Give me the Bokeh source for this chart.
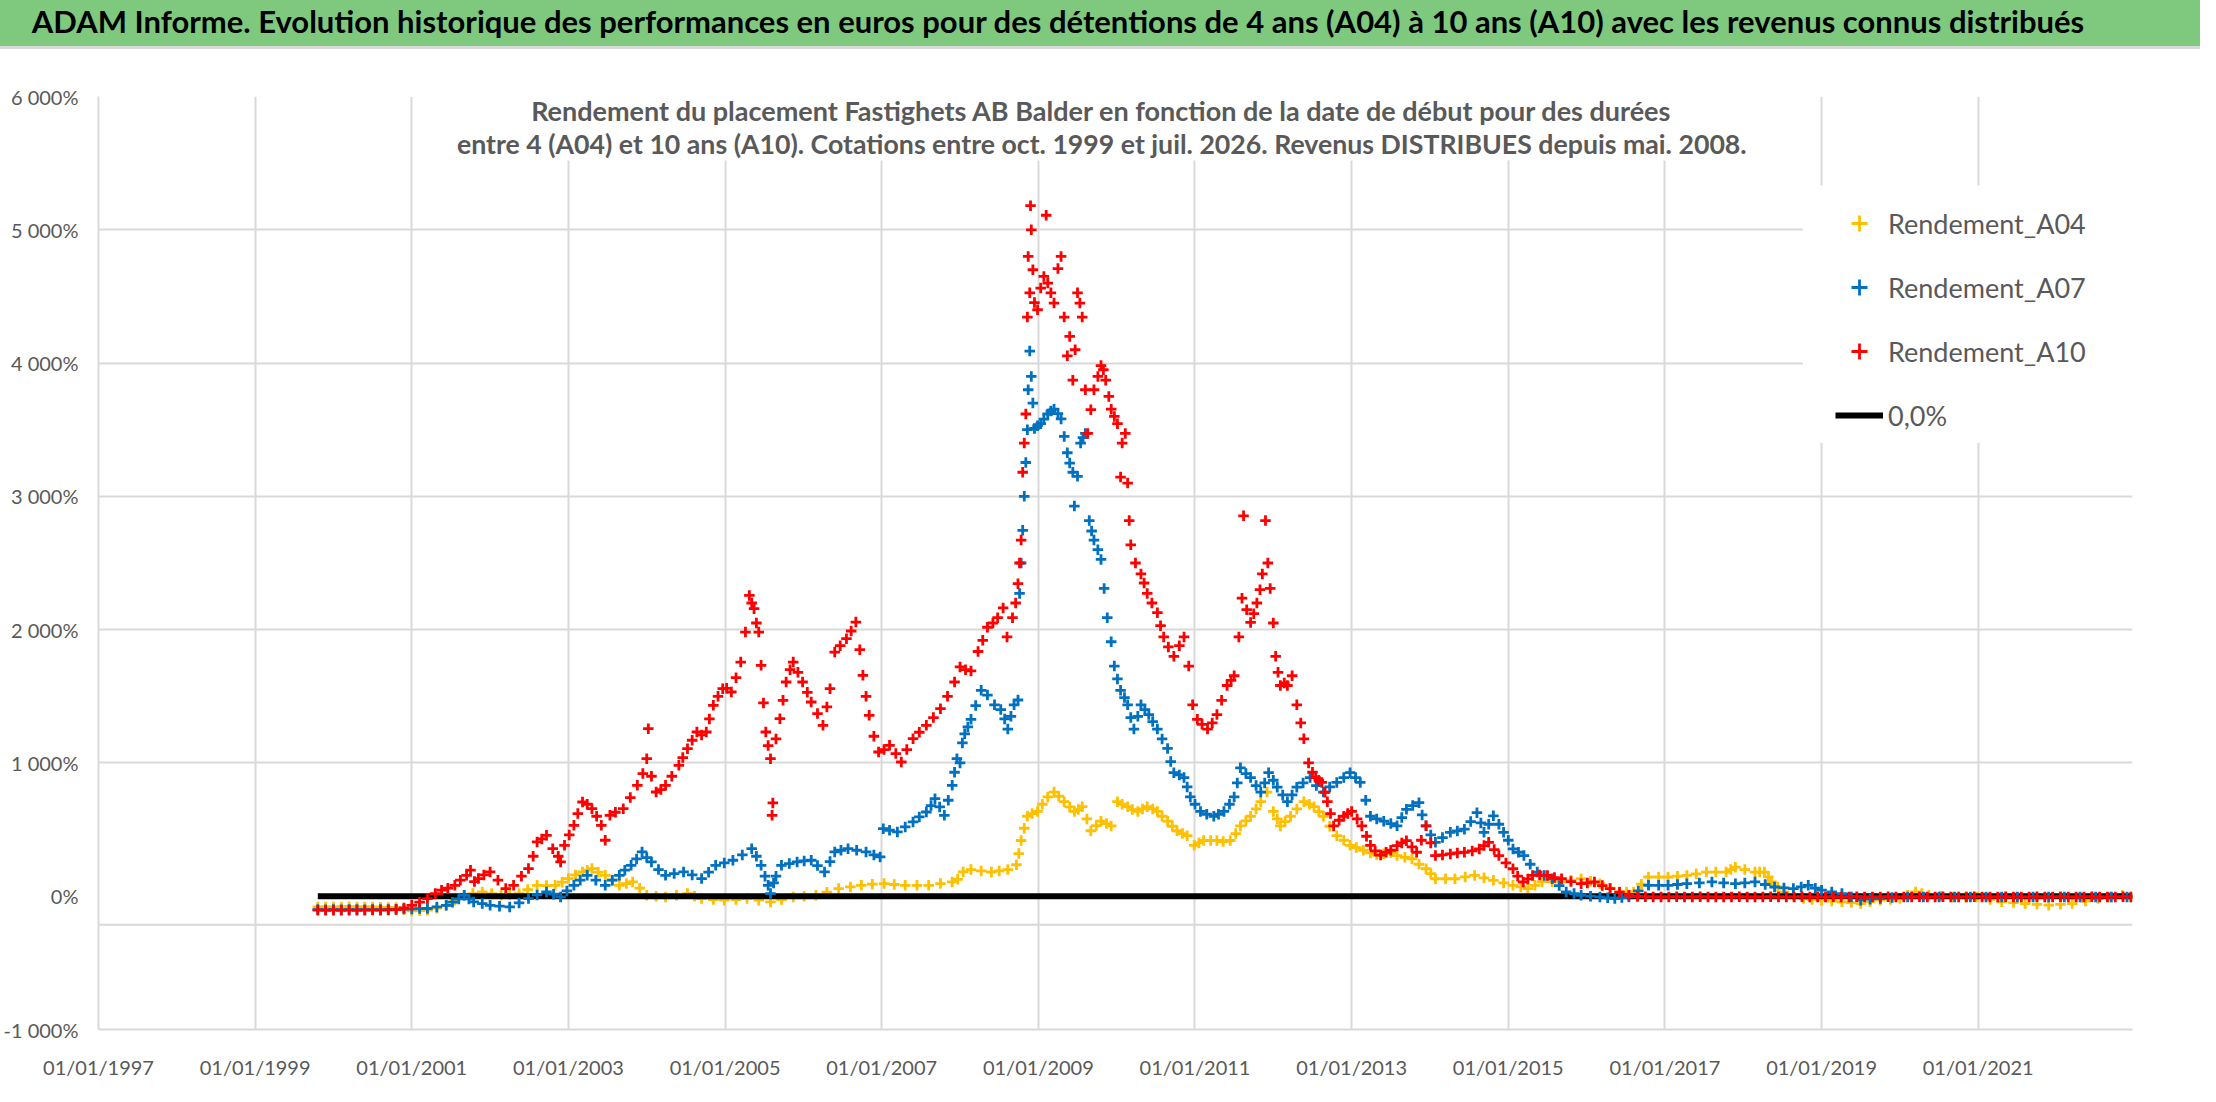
from bokeh.plotting import figure
from bokeh.models import Range1d, FixedTicker, Legend, LegendItem, Label, BoxAnnotation, Span, Div
from bokeh.layouts import column
from bokeh.embed import file_html
from bokeh.resources import INLINE

# ---------------- texts ----------------
TITLE = ("ADAM Informe. Evolution historique des performances en euros pour des détentions "
         "de 4 ans (A04) à 10 ans (A10) avec les revenus connus distribués")
SUBTITLE_1 = "Rendement du placement Fastighets AB Balder en fonction de la date de début pour des durées"
SUBTITLE_2 = ("entre 4 (A04) et 10 ans (A10). Cotations entre oct. 1999 et juil. 2026. "
              "Revenus DISTRIBUES depuis mai. 2008.")
SERIES_NAMES = ["Rendement_A04", "Rendement_A07", "Rendement_A10", "0,0%"]

# ---------------- ticks ----------------
Y_TICKS = [-1000, 0, 1000, 2000, 3000, 4000, 5000, 6000]
Y_TICK_LABELS = ["-1 000%", "0%", "1 000%", "2 000%", "3 000%", "4 000%", "5 000%", "6 000%"]
X_TICKS = [1997, 1999, 2001, 2003, 2005, 2007, 2009, 2011, 2013, 2015, 2017, 2019, 2021]
X_TICK_LABELS = ["01/01/1997", "01/01/1999", "01/01/2001", "01/01/2003", "01/01/2005",
                 "01/01/2007", "01/01/2009", "01/01/2011", "01/01/2013", "01/01/2015",
                 "01/01/2017", "01/01/2019", "01/01/2021"]

# ---------------- data (start date as decimal year, return in %) ----------------
a04_dates = [
    1999.80, 1999.90, 2000.00, 2000.10, 2000.20, 2000.30, 2000.40, 2000.50, 2000.60, 2000.70,
    2000.80, 2000.90, 2001.00, 2001.10, 2001.20, 2001.32, 2001.44, 2001.55, 2001.67, 2001.78,
    2001.90, 2002.02, 2002.14, 2002.25, 2002.37, 2002.48, 2002.60, 2002.72, 2002.83, 2002.92,
    2003.00, 2003.09, 2003.18, 2003.24, 2003.30, 2003.38, 2003.47, 2003.56, 2003.65, 2003.74,
    2003.82, 2003.91, 2004.00, 2004.12, 2004.24, 2004.38, 2004.52, 2004.61, 2004.70, 2004.85,
    2004.99, 2005.14, 2005.28, 2005.43, 2005.58, 2005.72, 2005.87, 2006.01, 2006.16, 2006.30,
    2006.45, 2006.60, 2006.74, 2006.88, 2007.03, 2007.16, 2007.30, 2007.45, 2007.60, 2007.75,
    2007.90, 2007.97, 2008.04, 2008.14, 2008.27, 2008.40, 2008.50, 2008.61, 2008.72, 2008.75,
    2008.78, 2008.82, 2008.86, 2008.92, 2008.99, 2009.05, 2009.12, 2009.20, 2009.26, 2009.33,
    2009.40, 2009.46, 2009.51, 2009.56, 2009.62, 2009.67, 2009.74, 2009.80, 2009.87, 2009.93,
    2010.01, 2010.07, 2010.14, 2010.20, 2010.27, 2010.33, 2010.39, 2010.46, 2010.52, 2010.58,
    2010.65, 2010.71, 2010.77, 2010.84, 2010.90, 2010.99, 2011.05, 2011.11, 2011.20, 2011.28,
    2011.36, 2011.45, 2011.52, 2011.58, 2011.65, 2011.71, 2011.78, 2011.84, 2011.92, 2012.00,
    2012.05, 2012.09, 2012.15, 2012.22, 2012.30, 2012.39, 2012.46, 2012.52, 2012.58, 2012.64,
    2012.72, 2012.81, 2012.90, 2012.98, 2013.06, 2013.15, 2013.24, 2013.32, 2013.41, 2013.50,
    2013.58, 2013.68, 2013.77, 2013.86, 2013.95, 2014.01, 2014.07, 2014.20, 2014.32, 2014.45,
    2014.57, 2014.69, 2014.81, 2014.94, 2015.06, 2015.16, 2015.25, 2015.34, 2015.43, 2015.56,
    2015.68, 2015.80, 2015.93, 2016.05, 2016.17, 2016.30, 2016.42, 2016.51, 2016.60, 2016.70,
    2016.79, 2016.92, 2017.04, 2017.16, 2017.28, 2017.40, 2017.53, 2017.65, 2017.78, 2017.84,
    2017.90, 2018.02, 2018.15, 2018.21, 2018.27, 2018.32, 2018.36, 2018.44, 2018.52, 2018.64,
    2018.77, 2018.88, 2019.00, 2019.13, 2019.26, 2019.38, 2019.50, 2019.62, 2019.75, 2019.88,
    2020.00, 2020.10, 2020.20, 2020.28, 2020.37, 2020.52, 2020.68, 2020.84, 2020.99, 2021.15,
    2021.30, 2021.45, 2021.60, 2021.75, 2021.90, 2022.05, 2022.20, 2022.37, 2022.53, 2022.68,
    2022.84, 2022.95,
]
a04_values = [
    -80, -80, -81, -80, -79, -80, -80, -81, -82, -84,
    -85, -100, -110, -108, -105, -90, -68, -30, 7, 20,
    32, 20, 7, 12, 20, 50, 82, 80, 82, 105,
    132, 160, 182, 195, 207, 180, 157, 120, 82, 95,
    107, 60, 7, 0, -5, 8, 20, 0, -18, -25,
    -30, -25, -18, -30, -43, -25, -5, 0, 7, 30,
    57, 70, 82, 90, 95, 88, 82, 82, 82, 95,
    107, 127, 182, 200, 190, 182, 190, 200, 236, 320,
    418, 510, 600, 620, 636, 690, 745, 781, 750, 709,
    670, 636, 650, 672, 580, 491, 530, 563, 545, 527,
    709, 690, 672, 650, 636, 655, 672, 655, 636, 600,
    563, 525, 491, 470, 454, 382, 400, 418, 418, 418,
    410, 418, 470, 527, 565, 600, 655, 709, 781, 636,
    580, 527, 560, 600, 655, 709, 690, 672, 635, 600,
    525, 454, 420, 382, 365, 345, 325, 309, 318, 327,
    305, 292, 280, 240, 206, 170, 131, 131, 131, 145,
    156, 138, 119, 100, 82, 70, 57, 82, 107, 107,
    107, 120, 131, 112, 94, 60, 32, 32, 32, 90,
    144, 144, 144, 150, 156, 168, 181, 181, 181, 200,
    218, 200, 181, 181, 181, 145, 107, 70, 32, 8,
    -17, -24, -30, -36, -42, -48, -55, -42, -30, -24,
    -17, 8, 32, 20, 7, 0, -5, -5, -5, -24,
    -42, -48, -55, -61, -67, -61, -55, -36, -17, -5,
    7, -5,
]

a07_dates = [
    1999.80, 1999.90, 2000.00, 2000.10, 2000.20, 2000.30, 2000.40, 2000.50, 2000.60, 2000.70,
    2000.80, 2000.90, 2001.00, 2001.10, 2001.20, 2001.32, 2001.44, 2001.52, 2001.60, 2001.67,
    2001.73, 2001.79, 2001.90, 2002.00, 2002.12, 2002.25, 2002.37, 2002.49, 2002.60, 2002.72,
    2002.81, 2002.90, 2002.98, 2003.07, 2003.15, 2003.24, 2003.35, 2003.47, 2003.56, 2003.65,
    2003.72, 2003.80, 2003.87, 2003.94, 2004.00, 2004.06, 2004.15, 2004.24, 2004.35, 2004.47,
    2004.58, 2004.70, 2004.79, 2004.88, 2004.99, 2005.10, 2005.22, 2005.34, 2005.40, 2005.46,
    2005.51, 2005.55, 2005.58, 2005.62, 2005.65, 2005.72, 2005.82, 2005.92, 2006.01, 2006.10,
    2006.18, 2006.27, 2006.34, 2006.40, 2006.48, 2006.57, 2006.68, 2006.80, 2006.90, 2006.98,
    2007.02, 2007.10, 2007.20, 2007.30, 2007.40, 2007.48, 2007.57, 2007.63, 2007.68, 2007.74,
    2007.80, 2007.85, 2007.90, 2007.93, 2007.96, 2008.00, 2008.03, 2008.06, 2008.10, 2008.14,
    2008.20, 2008.27, 2008.35, 2008.44, 2008.52, 2008.57, 2008.61, 2008.65, 2008.69, 2008.74,
    2008.76, 2008.78, 2008.80, 2008.82, 2008.84, 2008.86, 2008.87, 2008.89, 2008.91, 2008.93,
    2008.95, 2008.99, 2009.03, 2009.07, 2009.12, 2009.16, 2009.20, 2009.25, 2009.29, 2009.33,
    2009.37, 2009.40, 2009.44, 2009.46, 2009.50, 2009.54, 2009.57, 2009.60, 2009.65, 2009.68,
    2009.71, 2009.76, 2009.80, 2009.84, 2009.88, 2009.93, 2009.97, 2010.01, 2010.05, 2010.10,
    2010.14, 2010.18, 2010.22, 2010.27, 2010.31, 2010.36, 2010.41, 2010.46, 2010.52, 2010.58,
    2010.65, 2010.69, 2010.73, 2010.80, 2010.86, 2010.90, 2010.94, 2011.00, 2011.07, 2011.15,
    2011.24, 2011.30, 2011.37, 2011.44, 2011.50, 2011.54, 2011.58, 2011.65, 2011.71, 2011.78,
    2011.84, 2011.89, 2011.94, 2012.00, 2012.05, 2012.12, 2012.18, 2012.24, 2012.30, 2012.38,
    2012.47, 2012.55, 2012.64, 2012.72, 2012.81, 2012.90, 2012.98, 2013.05, 2013.11, 2013.18,
    2013.24, 2013.32, 2013.41, 2013.50, 2013.58, 2013.64, 2013.70, 2013.78, 2013.86, 2013.90,
    2013.95, 2014.01, 2014.07, 2014.16, 2014.26, 2014.35, 2014.44, 2014.52, 2014.60, 2014.65,
    2014.69, 2014.75, 2014.81, 2014.88, 2014.94, 2015.00, 2015.06, 2015.13, 2015.20, 2015.28,
    2015.37, 2015.46, 2015.56, 2015.65, 2015.74, 2015.84, 2015.93, 2016.05, 2016.17, 2016.27,
    2016.36, 2016.45, 2016.54, 2016.66, 2016.79, 2016.92, 2017.04, 2017.16, 2017.28, 2017.44,
    2017.60, 2017.75, 2017.90, 2018.02, 2018.15, 2018.28, 2018.40, 2018.52, 2018.64, 2018.74,
    2018.83, 2018.92, 2019.00, 2019.13, 2019.26, 2019.38, 2019.50, 2019.62, 2019.75, 2019.90,
    2020.10, 2020.30, 2020.50, 2020.70, 2020.90, 2021.10, 2021.30, 2021.50, 2021.70, 2021.90,
    2022.10, 2022.30, 2022.50, 2022.70, 2022.90,
]
a07_values = [
    -100, -101, -100, -101, -100, -100, -101, -100, -100, -99,
    -98, -96, -95, -93, -92, -80, -68, -45, -20, 7,
    -20, -43, -55, -68, -75, -80, -50, -18, 10, 32,
    15, -5, 40, 82, 120, 157, 120, 82, 120, 157,
    195, 232, 280, 332, 290, 257, 200, 157, 170, 182,
    160, 132, 180, 232, 250, 270, 310, 357, 300, 232,
    150, 82, 20, 100, 150, 232, 245, 257, 265, 270,
    230, 182, 260, 332, 345, 357, 345, 332, 310, 295,
    507, 495, 482, 520, 557, 595, 632, 680, 732, 670,
    607, 720, 832, 930, 1032, 1000, 1150, 1218, 1270, 1327,
    1430, 1545, 1509, 1436, 1400, 1330, 1254, 1350, 1436, 1472,
    2272, 2500, 2745, 3000, 3254, 3500, 3800, 4090, 3900, 3700,
    3509, 3530, 3545, 3580, 3618, 3640, 3654, 3620, 3581, 3450,
    3327, 3250, 3181, 2927, 3150, 3400, 3440, 3472, 2818, 2740,
    2672, 2600, 2527, 2309, 2090, 1909, 1727, 1630, 1545, 1490,
    1436, 1340, 1254, 1350, 1436, 1400, 1363, 1310, 1254, 1180,
    1109, 1010, 927, 910, 890, 820, 745, 690, 636, 615,
    600, 615, 636, 690, 745, 850, 963, 920, 890, 830,
    781, 850, 927, 870, 818, 760, 709, 760, 818, 850,
    890, 830, 781, 820, 854, 890, 927, 890, 854, 720,
    600, 580, 563, 545, 528, 590, 652, 680, 702, 610,
    528, 460, 404, 440, 479, 490, 503, 560, 627, 550,
    479, 540, 603, 540, 479, 420, 355, 330, 305, 240,
    181, 155, 131, 80, 32, 20, 7, 0, -5, -12,
    -17, -10, -5, 40, 82, 82, 82, 88, 94, 100,
    107, 100, 94, 100, 107, 88, 69, 62, 57, 70,
    82, 60, 45, 32, 20, -5, -30, -22, -17, -10,
    -6, -5, -5, -6, -5, -5, -6, -5, -5, -6,
    -5, -5, -6, -5, -5,
]

a10_dates = [
    1999.80, 1999.90, 2000.00, 2000.10, 2000.20, 2000.30, 2000.40, 2000.50, 2000.60, 2000.70,
    2000.80, 2000.90, 2001.00, 2001.10, 2001.20, 2001.30, 2001.38, 2001.46, 2001.55, 2001.62,
    2001.70, 2001.75, 2001.80, 2001.85, 2001.92, 2002.00, 2002.10, 2002.20, 2002.30, 2002.40,
    2002.49, 2002.55, 2002.60, 2002.66, 2002.72, 2002.80, 2002.87, 2002.90, 2002.95, 2003.01,
    2003.07, 2003.12, 2003.18, 2003.24, 2003.30, 2003.36, 2003.42, 2003.47, 2003.53, 2003.60,
    2003.70, 2003.79, 2003.88, 2003.95, 2004.00, 2004.02, 2004.06, 2004.12, 2004.18, 2004.24,
    2004.32, 2004.41, 2004.46, 2004.52, 2004.58, 2004.64, 2004.70, 2004.76, 2004.80, 2004.85,
    2004.91, 2004.97, 2005.02, 2005.08, 2005.14, 2005.20, 2005.26, 2005.31, 2005.34, 2005.37,
    2005.40, 2005.43, 2005.46, 2005.49, 2005.52, 2005.55, 2005.58, 2005.60, 2005.61, 2005.65,
    2005.70, 2005.74, 2005.78, 2005.83, 2005.87, 2005.93, 2005.99, 2006.05, 2006.10, 2006.18,
    2006.25, 2006.30, 2006.34, 2006.40, 2006.47, 2006.55, 2006.61, 2006.67, 2006.72, 2006.76,
    2006.80, 2006.84, 2006.90, 2006.96, 2007.03, 2007.10, 2007.18, 2007.25, 2007.32, 2007.40,
    2007.48, 2007.57, 2007.66, 2007.75, 2007.84, 2007.93, 2008.00, 2008.07, 2008.14, 2008.23,
    2008.29, 2008.35, 2008.42, 2008.48, 2008.55, 2008.60, 2008.67, 2008.71, 2008.74, 2008.76,
    2008.78, 2008.80, 2008.82, 2008.84, 2008.86, 2008.87, 2008.89, 2008.90, 2008.91, 2008.93,
    2008.95, 2008.99, 2009.03, 2009.07, 2009.10, 2009.12, 2009.16, 2009.20, 2009.25, 2009.29,
    2009.33, 2009.37, 2009.40, 2009.44, 2009.47, 2009.50, 2009.53, 2009.56, 2009.60, 2009.63,
    2009.67, 2009.71, 2009.76, 2009.80, 2009.83, 2009.86, 2009.90, 2009.93, 2009.97, 2010.01,
    2010.05, 2010.07, 2010.11, 2010.14, 2010.16, 2010.18, 2010.24, 2010.31, 2010.35, 2010.39,
    2010.45, 2010.52, 2010.56, 2010.60, 2010.66, 2010.73, 2010.80, 2010.86, 2010.92, 2010.97,
    2011.03, 2011.09, 2011.16, 2011.22, 2011.28, 2011.34, 2011.41, 2011.46, 2011.50, 2011.56,
    2011.60, 2011.62, 2011.66, 2011.71, 2011.75, 2011.79, 2011.83, 2011.86, 2011.90, 2011.93,
    2011.96, 2012.00, 2012.03, 2012.06, 2012.09, 2012.14, 2012.18, 2012.24, 2012.30, 2012.35,
    2012.39, 2012.45, 2012.50, 2012.54, 2012.58, 2012.62, 2012.66, 2012.69, 2012.73, 2012.77,
    2012.84, 2012.90, 2012.95, 2013.00, 2013.07, 2013.13, 2013.19, 2013.24, 2013.30, 2013.37,
    2013.44, 2013.50, 2013.58, 2013.64, 2013.70, 2013.77, 2013.83, 2013.89, 2013.95, 2014.01,
    2014.07, 2014.16, 2014.26, 2014.35, 2014.44, 2014.54, 2014.63, 2014.69, 2014.75, 2014.82,
    2014.88, 2014.97, 2015.06, 2015.12, 2015.19, 2015.25, 2015.31, 2015.40, 2015.50, 2015.59,
    2015.68, 2015.80, 2015.93, 2016.01, 2016.10, 2016.20, 2016.30, 2016.42, 2016.54, 2016.65,
    2016.75, 2016.85, 2016.95, 2017.05, 2017.15, 2017.25, 2017.35, 2017.45, 2017.55, 2017.65,
    2017.75, 2017.85, 2017.95, 2018.05, 2018.15, 2018.25, 2018.35, 2018.45, 2018.55, 2018.65,
    2018.75, 2018.85, 2018.95, 2019.05, 2019.15, 2019.25, 2019.35, 2019.45, 2019.55, 2019.65,
    2019.75, 2019.85, 2019.95, 2020.05, 2020.15, 2020.25, 2020.35, 2020.45, 2020.55, 2020.65,
    2020.75, 2020.85, 2020.95, 2021.05, 2021.15, 2021.25, 2021.35, 2021.45, 2021.55, 2021.65,
    2021.75, 2021.85, 2021.95, 2022.05, 2022.15, 2022.25, 2022.35, 2022.45, 2022.55, 2022.65,
    2022.75, 2022.85, 2022.95,
]
a10_values = [
    -105, -106, -105, -106, -105, -106, -105, -104, -105, -103,
    -100, -88, -68, -45, -18, 20, 45, 60, 82, 120,
    157, 195, 110, 132, 160, 182, 120, 57, 82, 150,
    207, 300, 407, 430, 457, 357, 300, 257, 382, 460,
    532, 620, 707, 690, 657, 600, 532, 420, 607, 630,
    657, 740, 832, 920, 1032, 1257, 900, 782, 800, 832,
    900, 982, 1040, 1107, 1170, 1232, 1210, 1232, 1330, 1432,
    1500, 1557, 1560, 1532, 1640, 1757, 1982, 2257, 2200, 2157,
    2050, 1982, 1732, 1450, 1232, 1130, 1032, 607, 700, 1180,
    1332, 1470, 1607, 1700, 1757, 1680, 1607, 1530, 1457, 1370,
    1282, 1420, 1557, 1832, 1880, 1932, 1990, 2057, 1850, 1657,
    1500, 1357, 1200, 1082, 1100, 1132, 1070, 1007, 1100, 1182,
    1230, 1282, 1340, 1407, 1500, 1607, 1720, 1700, 1690, 1836,
    1920, 2018, 2050, 2090, 2163, 1945, 2090, 2200, 2345, 2500,
    2672, 3181, 3400, 3618, 4345, 4800, 4527, 5181, 5000, 4700,
    4454, 4400, 4563, 4650, 5109, 4600, 4527, 4450, 4709, 4800,
    4345, 4054, 4200, 3872, 4100, 4527, 4450, 4345, 3800, 3472,
    3650, 3800, 3900, 3981, 3950, 3872, 3750, 3654, 3600, 3545,
    3145, 3400, 3472, 3100, 2818, 2636, 2500, 2418, 2350, 2272,
    2200, 2127, 2030, 1945, 1870, 1800, 1880, 1945, 1727, 1436,
    1327, 1290, 1254, 1300, 1363, 1470, 1581, 1620, 1654, 1945,
    2236, 2854, 2150, 2054, 2120, 2200, 2300, 2418, 2818, 2500,
    2309, 2050, 1800, 1680, 1581, 1600, 1581, 1654, 1436, 1300,
    1181, 1000, 930, 890, 870, 854, 780, 709, 620, 527,
    570, 600, 620, 636, 580, 527, 450, 382, 340, 309,
    330, 345, 379, 400, 417, 370, 330, 420, 528, 400,
    305, 310, 317, 325, 330, 340, 355, 380, 404, 350,
    305, 250, 206, 150, 107, 130, 156, 160, 156, 140,
    131, 110, 94, 100, 107, 80, 57, 30, 7, -2,
    -4, -5, -6, -5, -4, -5, -6, -4, -5, -5,
    -6, -5, -4, -5, -6, -5, -4, -6, -5, -5,
    -4, -6, -5, -5, -4, -6, -5, -4, -6, -5,
    -5, -4, -6, -5, -5, -4, -6, -5, -4, -5,
    -6, -5, -4, -5, -6, -5, -4, -6, -5, -5,
    -4, -6, -5, -4, -5, -6, -5, -4, -6, -5,
    -5, -4, -5,
]

zero_dates = [1999.80, 2022.97]
zero_values = [0, 0]

# ---------------- styles ----------------
FONT = "Lato"
GREY_TEXT = "#595959"
GRID = "#D9D9D9"
GREEN = "#7FC97F"
C04, C07, C10 = "#FFC000", "#0070C0", "#FF0000"
MARK_SIZE = 10.5
MARK_WIDTH = 2.8

# ---------------- title band (HTML text) ----------------
title_div = Div(
    text=(f'<div style="box-sizing:border-box;width:2200px;height:49px;line-height:42px;'
          f'padding-right:84px;background:{GREEN};border-bottom:3px solid #D9D9D9;'
          f'text-align:center;font-family:Lato;font-weight:bold;font-size:31px;color:black;'
          f'white-space:nowrap;overflow:hidden;">{TITLE}</div>'),
    width=2200, height=49, margin=0)

# ---------------- main chart ----------------
p = figure(width=2200, height=1037, x_range=Range1d(1997, 2022.97), y_range=Range1d(-1000, 6000),
           toolbar_location=None, output_backend="svg",
           min_border_left=90, min_border_right=68, min_border_top=47, min_border_bottom=57)
p.outline_line_color = None
p.background_fill_color = "white"
p.border_fill_color = "white"

p.yaxis.ticker = FixedTicker(ticks=Y_TICKS)
p.yaxis.major_label_overrides = dict(zip(Y_TICKS, Y_TICK_LABELS))
p.xaxis.ticker = FixedTicker(ticks=X_TICKS)
p.xaxis.major_label_overrides = dict(zip(X_TICKS, X_TICK_LABELS))
for ax in (p.xaxis, p.yaxis):
    ax.major_tick_line_color = None
    ax.minor_tick_line_color = None
    ax.major_tick_out = 0
    ax.major_tick_in = 0
    ax.axis_line_color = GRID
    ax.axis_line_width = 2
    ax.major_label_text_font = FONT
    ax.major_label_text_font_size = "20px"
    ax.major_label_text_color = GREY_TEXT
p.yaxis.major_label_standoff = 20
p.xaxis.major_label_standoff = 25

p.xgrid.ticker = FixedTicker(ticks=X_TICKS)
p.ygrid.ticker = FixedTicker(ticks=[t for t in Y_TICKS if t != 0])
p.grid.grid_line_color = GRID
p.grid.grid_line_width = 2

p.add_layout(Span(location=-215, dimension="width", line_color=GRID, line_width=2, level="underlay"))

r04 = p.scatter(a04_dates, a04_values, marker="cross", size=MARK_SIZE, line_width=MARK_WIDTH, color=C04)
r00 = p.line(zero_dates, zero_values, line_color="black", line_width=6)
r07 = p.scatter(a07_dates, a07_values, marker="cross", size=MARK_SIZE, line_width=MARK_WIDTH, color=C07)
r10 = p.scatter(a10_dates, a10_values, marker="cross", size=MARK_SIZE, line_width=MARK_WIDTH, color=C10)

# white panels behind chart title and legend
p.add_layout(BoxAnnotation(left=2001.555, right=2018.03, bottom=5520, fill_color="white",
                           fill_alpha=1, line_color=None))
p.add_layout(BoxAnnotation(left=2018.76, bottom=3403, top=5332, fill_color="white",
                           fill_alpha=1, line_color=None))

p.add_layout(Label(x=2009.81, y=5895, text=SUBTITLE_1, text_align="center", text_baseline="middle",
                   text_font=FONT, text_font_style="bold", text_font_size="27px",
                   text_color=GREY_TEXT))
p.add_layout(Label(x=2009.81, y=5640, text=SUBTITLE_2, text_align="center", text_baseline="middle",
                   text_font=FONT, text_font_style="bold", text_font_size="26.7px",
                   text_color=GREY_TEXT))

legend = Legend(items=[LegendItem(label=SERIES_NAMES[0], renderers=[r04]),
                       LegendItem(label=SERIES_NAMES[1], renderers=[r07]),
                       LegendItem(label=SERIES_NAMES[2], renderers=[r10]),
                       LegendItem(label=SERIES_NAMES[3], renderers=[r00])],
                location=(1737, 594), orientation="vertical",
                glyph_width=48, glyph_height=40, label_height=40, spacing=24,
                padding=12, margin=0, label_standoff=5,
                label_text_font=FONT, label_text_font_size="27px", label_text_color=GREY_TEXT,
                border_line_color=None, background_fill_color="white", background_fill_alpha=1)
p.add_layout(legend)

layout = column(title_div, p, spacing=0)
open("out.html", "w").write(file_html(layout, INLINE))
